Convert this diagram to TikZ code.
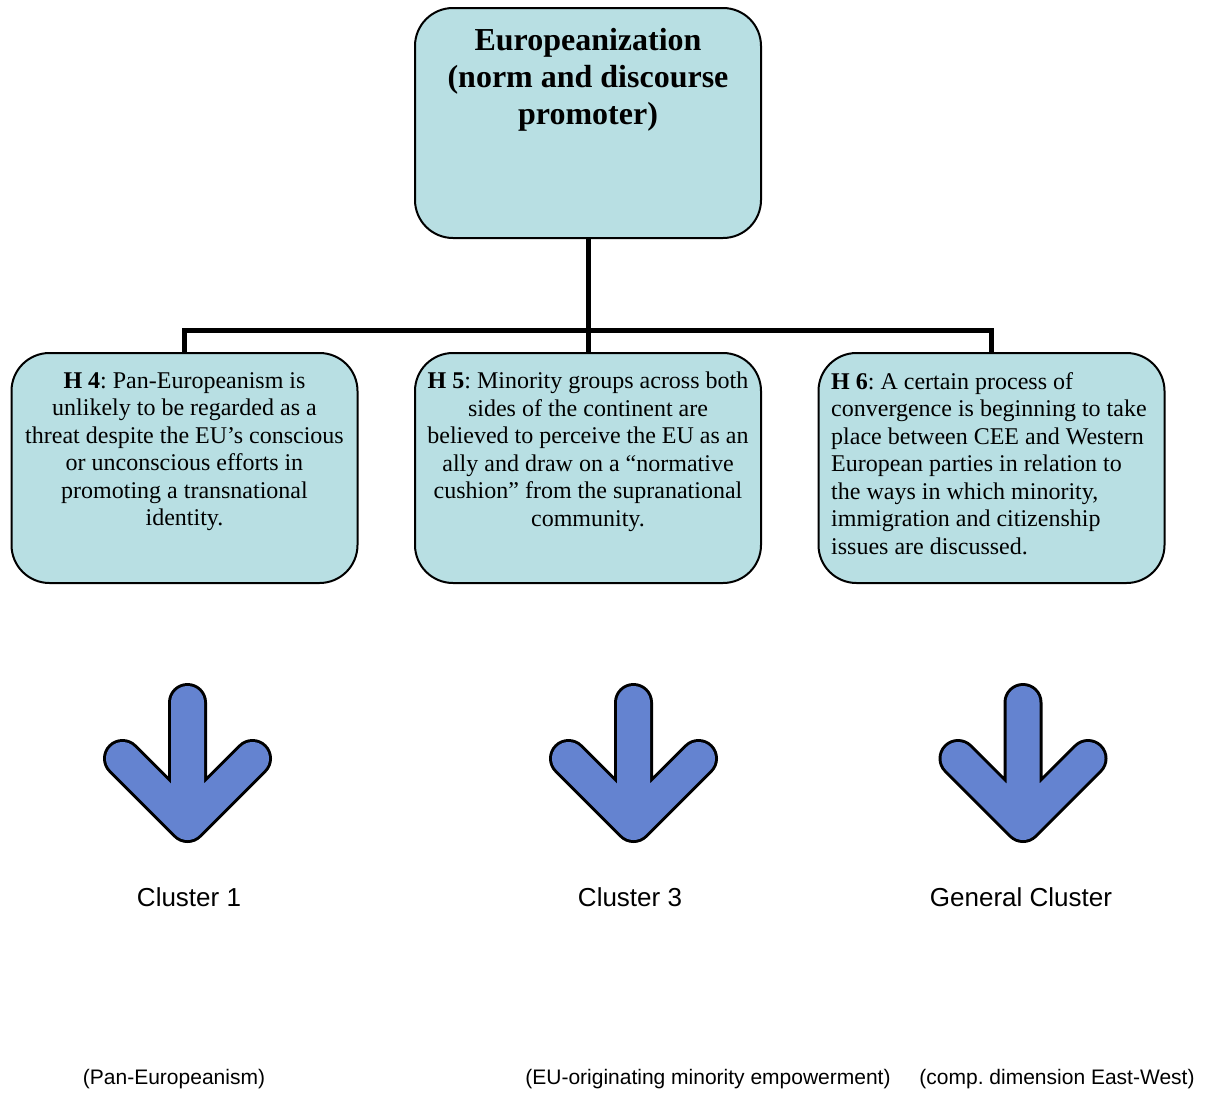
\documentclass[tikz,border=0pt]{standalone}
\usepackage{fontspec}
\usetikzlibrary{backgrounds}
\setmainfont{Liberation Serif}
\setsansfont{Liberation Sans}
\frenchspacing
\definecolor{boxfill}{RGB}{184,223,227}
\definecolor{arrowblue}{RGB}{100,131,208}
\begin{document}
\begin{tikzpicture}[x=1pt,y=-1pt,
  tbox/.style={draw=black,line width=2pt,fill=boxfill,rounded corners=38pt,minimum width=346pt,minimum height=230pt,inner sep=0pt},
  body/.style={font=\fontsize{24}{27.5}\selectfont,inner sep=0pt,anchor=north},
  title/.style={font=\fontsize{32}{37}\selectfont\bfseries,inner sep=0pt,anchor=north,align=center},
  conn/.style={line width=5pt,line join=miter,draw=black},
  clab/.style={font=\sffamily\fontsize{26}{30}\selectfont,inner sep=0pt},
  sublab/.style={font=\sffamily\fontsize{21}{25}\selectfont,inner sep=0pt},
  bigarrow/.pic={
    \draw[line width=39pt,line cap=round,line join=round,black] (0,-121) -- (0,0) (-65,-65) -- (0,0) -- (65,-65);
    \draw[line width=33pt,line cap=round,line join=round,arrowblue] (0,-121) -- (0,0) (-65,-65) -- (0,0) -- (65,-65);
  }]
\useasboundingbox (0,0) rectangle (1206,1092);
% boxes
\node[tbox] (top) at (588,123) {};
\node[tbox] (h4) at (184.5,468) {};
\node[tbox] (h5) at (588,468) {};
\node[tbox] (h6) at (991.5,468) {};
\coordinate (bus) at (588,330);
% connectors (behind the boxes)
\begin{pgfonlayer}{background}
\draw[conn] (top.south) -- (h5.north);
\draw[conn] (h4.north) -- (h4.north |- bus) -- (h6.north |- bus) -- (h6.north);
\end{pgfonlayer}
% texts
\node[title] (ttl) at (588,28) {Europeanization\\(norm and discourse\\promoter)};
\node[body,align=center] (t4) at (184.5,372) {\textbf{H 4}: Pan-Europeanism is\\unlikely to be regarded as a\\threat despite the EU’s conscious\\or unconscious efforts in\\promoting a transnational\\identity.};
\node[body,align=center] (t5) at (588,372) {\textbf{H 5}: Minority groups across both\\sides of the continent are\\believed to perceive the EU as an\\ally and draw on a “normative\\cushion” from the supranational\\community.};
\node[body,align=left,anchor=north west] (t6) at (831,372) {\textbf{H 6}: A certain process of\\convergence is beginning to take\\place between CEE and Western\\European parties in relation to\\the ways in which minority,\\immigration and citizenship\\issues are discussed.};
% arrows
\pic at (187.5,823.5) {bigarrow};
\pic at (633.5,823.5) {bigarrow};
\pic at (1023,823.5) {bigarrow};
% labels
\node[clab] (c1) at (189,897) {Cluster 1};
\node[clab] (c3) at (630,897) {Cluster 3};
\node[clab] (cg) at (1021,897) {General Cluster};
\node[sublab] (s1) at (174,1079) {(Pan-Europeanism)};
\node[sublab] (s3) at (708,1079) {(EU-originating minority empowerment)};
\node[sublab] (sg) at (1057,1079) {(comp. dimension East-West)};
\end{tikzpicture}
\end{document}
